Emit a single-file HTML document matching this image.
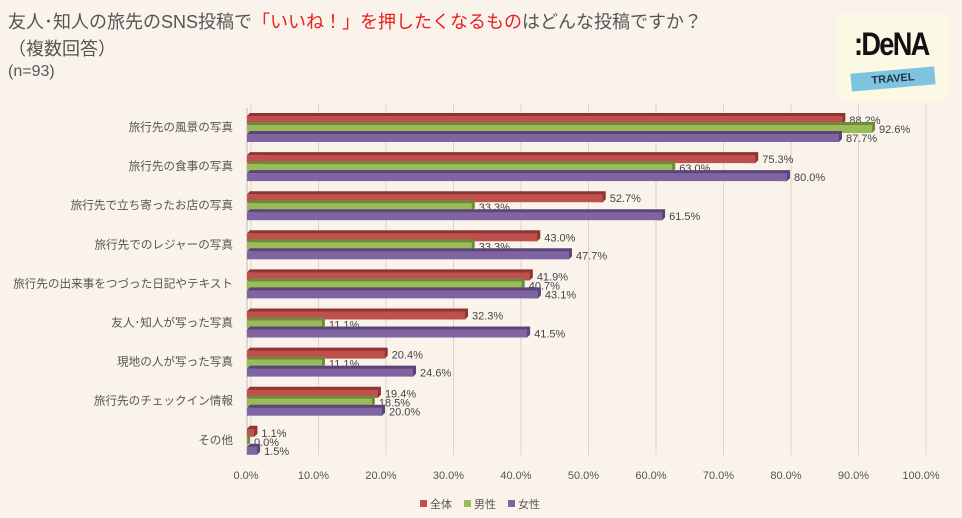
<!DOCTYPE html>
<html><head><meta charset="utf-8">
<style>
body{margin:0;width:962px;height:518px;background:#faf3ec;font-family:"Liberation Sans","Noto Sans CJK JP",sans-serif;overflow:hidden;position:relative}
.t{position:absolute;left:8px;color:#555;font-size:18px;white-space:nowrap}
.red{color:#e8201e}
#logo{position:absolute;left:838px;top:14px;width:110px;height:86px;background:#fbf8e4}
</style></head><body>
<div class="t" style="top:8px">友人･知人の旅先のSNS投稿で<span class="red">「いいね！」を押したくなるもの</span>はどんな投稿ですか？</div>
<div class="t" style="top:35px">（複数回答）</div>
<div class="t" style="top:63px;font-size:16px">(n=93)</div>
<div id="logo">
<div style="position:absolute;left:16px;top:12px;font-size:32px;font-weight:bold;color:#111;letter-spacing:-2px;transform:scaleX(0.85);transform-origin:left">:DeNA</div>
<div style="position:absolute;left:13px;top:56px;width:84px;height:18px;background:#7fc4de;transform:rotate(-5deg);text-align:center;font-size:11px;font-weight:bold;color:#234;line-height:18px">TRAVEL</div>
</div>
<svg id="c" width="962" height="518" style="position:absolute;left:0;top:0"></svg>
<script>
const categories=["旅行先の風景の写真","旅行先の食事の写真","旅行先で立ち寄ったお店の写真","旅行先でのレジャーの写真","旅行先の出来事をつづった日記やテキスト","友人･知人が写った写真","現地の人が写った写真","旅行先のチェックイン情報","その他"];
const allVals=[88.2,75.3,52.7,43.0,41.9,32.3,20.4,19.4,1.1];
const maleVals=[92.6,63.0,33.3,33.3,40.7,11.1,11.1,18.5,0.0];
const femaleVals=[87.7,80.0,61.5,47.7,43.1,41.5,24.6,20.0,1.5];
const ticks=[0,10,20,30,40,50,60,70,80,90,100];
const seriesNames=["全体","男性","女性"];
const colors=["#c0504d","#9bbb59","#8064a2"];
const darks=["#8e3532","#6f8a3a","#5a4578"];
const svg=document.getElementById('c');const NS="http://www.w3.org/2000/svg";
const x0=247,xs=6.75,gTop=110,gStep=39.1;
const X=v=>x0+v*xs;
function el(t,a,txt){const e=document.createElementNS(NS,t);for(const k in a)e.setAttribute(k,a[k]);if(txt!=null)e.textContent=txt;svg.appendChild(e);return e;}
ticks.forEach(t=>{
const g=el('line',{x1:X(t)+4,x2:X(t)+4,y1:104,y2:455,stroke:'#ddd3c8','stroke-width':1});


const l=el('text',{x:X(t)-1,y:479,'font-size':11,fill:'#555','text-anchor':'middle'},t.toFixed(1)+'%');


});
el('line',{x1:x0,x2:x0,y1:108,y2:455,stroke:'#bbb'});
const series=[allVals,maleVals,femaleVals];
categories.forEach((c,i)=>{
const gy=gTop+i*gStep;
const cl=el('text',{x:233,y:gy+21,'font-size':11.6,fill:'#555','text-anchor':'end'},c);


series.forEach((s,j)=>{
const y=gy+6+j*9,w=s[i]*xs;
const d=el('polygon',{points:`${x0},${y} ${x0+3},${y-3} ${x0+w+3},${y-3} ${x0+w+3},${y+5} ${x0+w},${y+8}`,fill:darks[j]});


const r=el('rect',{x:x0,y:y,width:Math.max(w,0.5),height:8,fill:colors[j]});


const v=el('text',{x:X(s[i])+7,y:y+8,'font-size':11,fill:'#444'},s[i].toFixed(1)+'%');


});
});
seriesNames.forEach((n,j)=>{
const lx=420+j*44;
const sq=el('rect',{x:lx,y:500,width:7,height:7,fill:colors[j]});


const t=el('text',{x:lx+10,y:508,'font-size':11,fill:'#555'},n);


});
</script>
</body></html>
